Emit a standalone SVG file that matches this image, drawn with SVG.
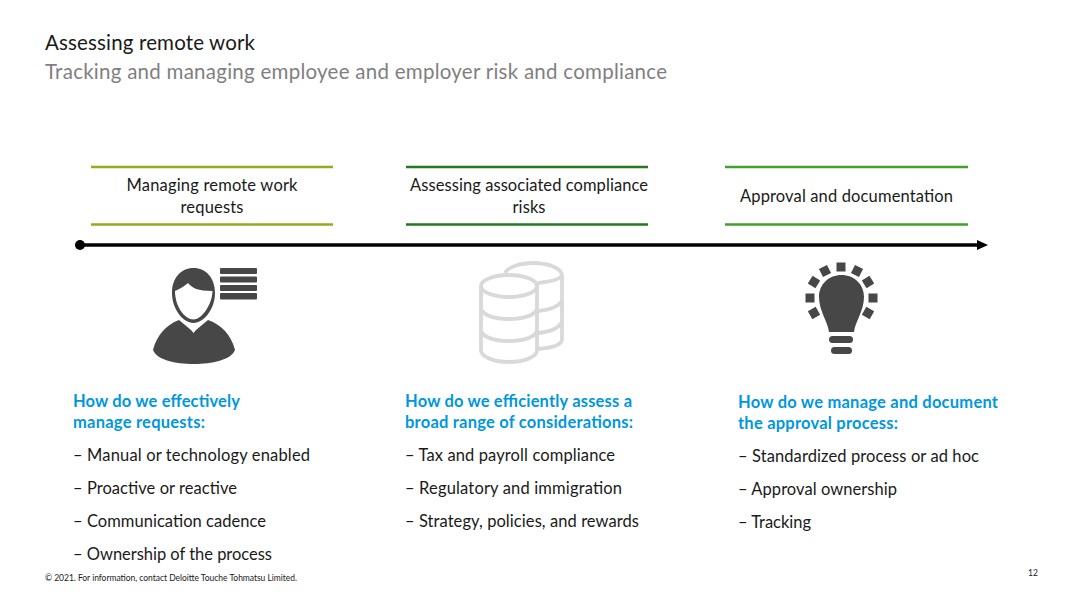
<svg xmlns="http://www.w3.org/2000/svg" width="1080" height="607" viewBox="0 0 1080 607">
<style>
text{font-family:"Lato","Carlito","Open Sans",sans-serif;fill:#1a1a1a;font-size:16.5px}
.h{font-weight:700;fill:#0097e0}
.c{text-anchor:middle}
.dark{fill:#474747}
.db{fill:none;stroke:#d9d9d9;stroke-width:3.8}
</style>
<defs><marker id="arr" markerWidth="11" markerHeight="10" refX="0" refY="5" orient="auto" markerUnits="userSpaceOnUse"><path d="M0 0L11 5L0 10z" fill="#000"/></marker></defs>
<rect width="1080" height="607" fill="#fff"/>
<text id="title" x="45" y="49.500" style="font-size:20.5px" textLength="210">Assessing remote work</text>
<text id="subtitle" x="45" y="79" style="font-size:20.5px;fill:#7f7f7f" textLength="622">Tracking and managing employee and employer risk and compliance</text>
<g id="connectors">
<line x1="80" y1="245" x2="977" y2="245" stroke="#000" stroke-width="3.400" marker-end="url(#arr)"/>
<circle cx="80" cy="245" r="5" fill="#000"/>
</g>
<g id="step1">
<path d="M91 167H333M91 224.500H333" stroke="#8fae1b" stroke-width="2.500"/>
<text class="c" x="212" y="191" textLength="171">Managing remote work</text>
<text class="c" x="212" y="213" textLength="63">requests</text>
</g>
<g id="step2">
<path d="M406 167H648M406 224.500H648" stroke="#26791f" stroke-width="2.500"/>
<text class="c" x="529" y="191" textLength="238">Assessing associated compliance</text>
<text class="c" x="529" y="213" textLength="33">risks</text>
</g>
<g id="step3">
<path d="M725 167H968M725 224.500H968" stroke="#43a02d" stroke-width="2.500"/>
<text class="c" x="846.500" y="202" textLength="213">Approval and documentation</text>
</g>
<g id="icon-person">
<path class="dark" fill-rule="evenodd" d="M193.500 268C181 268 172 278 172 293C172 309 183 323 193.500 323C204 323 215 309 215 293C215 278 206 268 193.500 268ZM175 291C181 288 185 286 188 283C192 288 198 291 212.500 291C212 306 201 319.500 193.500 319.500C185 319.500 175 307 175 291Z"/>
<path class="dark" d="M179 320L191 330L193.500 333L196 330L208 320C222 325 231 335 235 350C231 360 212 364 194 364C175 364 157 360 153 350C157 335 166 325 179 320Z"/>
<rect class="dark" x="220" y="268" width="37" height="6" rx="1"/>
<rect class="dark" x="220" y="276.500" width="37" height="6" rx="1"/>
<rect class="dark" x="220" y="285" width="37" height="6" rx="1"/>
<rect class="dark" x="220" y="293" width="37" height="6.500" rx="1"/>
</g>
<g id="icon-database" class="db">
<path d="M505 273C508 267 520 263 533.500 263C548 263 562 268 562 276V339C562 346 550 348 538 349"/>
<path d="M538 283C548 282 558 280 562 276"/>
<path d="M538 311C550 310 558 307 562 301M538 333C550 332 558 329 562 322"/>
<ellipse cx="509" cy="286" rx="28" ry="11"/>
<path d="M481 286V350C481 357 494 362 509 362C524 362 537 357 537 350V286"/>
<path d="M481 309C484 316 496 319 509 319C522 319 534 316 537 309M481 331C484 338 496 341 509 341C522 341 534 338 537 331"/>
</g>
<g id="icon-bulb">
<path class="dark" d="M829 332C828 322 819 311 819 297C819 284 829 275 841.500 275C854 275 864 284 864 297C864 311 855 322 854 332Z"/>
<rect class="dark" x="829" y="336" width="24" height="7" rx="3.500"/>
<rect class="dark" x="831" y="347" width="21" height="7" rx="3.500"/>
<g class="dark">
<rect x="836.500" y="262.500" width="9" height="9"/>
<rect x="820.500" y="266.500" width="9" height="9" transform="rotate(-27 825 271)"/>
<rect x="852.500" y="266.500" width="9" height="9" transform="rotate(27 857 271)"/>
<rect x="809.500" y="277.500" width="9" height="9" transform="rotate(-58 814 282)"/>
<rect x="863.500" y="277.500" width="9" height="9" transform="rotate(58 868 282)"/>
<rect x="805.500" y="293.500" width="9" height="9"/>
<rect x="868.500" y="293.500" width="9" height="9"/>
<rect x="809.500" y="308.500" width="9" height="9" transform="rotate(60 814 313)"/>
<rect x="863.500" y="308.500" width="9" height="9" transform="rotate(-60 868 313)"/>
</g>
</g>
<g id="col1">
<text class="h" x="73" y="406.500" textLength="167">How do we effectively</text>
<text class="h" x="73" y="428" textLength="132">manage requests:</text>
<text x="73" y="461" textLength="237">– Manual or technology enabled</text>
<text x="73" y="494" textLength="164">– Proactive or reactive</text>
<text x="73" y="527" textLength="193">– Communication cadence</text>
<text x="73" y="559.500" textLength="199">– Ownership of the process</text>
</g>
<g id="col2">
<text class="h" x="405" y="406.500" textLength="227">How do we efficiently assess a</text>
<text class="h" x="405" y="428" textLength="228">broad range of considerations:</text>
<text x="405" y="461" textLength="210">– Tax and payroll compliance</text>
<text x="405" y="494" textLength="217">– Regulatory and immigration</text>
<text x="405" y="527" textLength="234">– Strategy, policies, and rewards</text>
</g>
<g id="col3">
<text class="h" x="738" y="407.500" textLength="260">How do we manage and document</text>
<text class="h" x="738" y="429" textLength="160">the approval process:</text>
<text x="738" y="462" textLength="241">– Standardized process or ad hoc</text>
<text x="738" y="495" textLength="159">– Approval ownership</text>
<text x="738" y="528" textLength="73">– Tracking</text>
</g>
<text id="footer" x="45" y="581" style="font-size:8.500px" textLength="252">© 2021. For information, contact Deloitte Touche Tohmatsu Limited.</text>
<text id="page" x="1028" y="576" style="font-size:8.500px" textLength="10">12</text>
</svg>
